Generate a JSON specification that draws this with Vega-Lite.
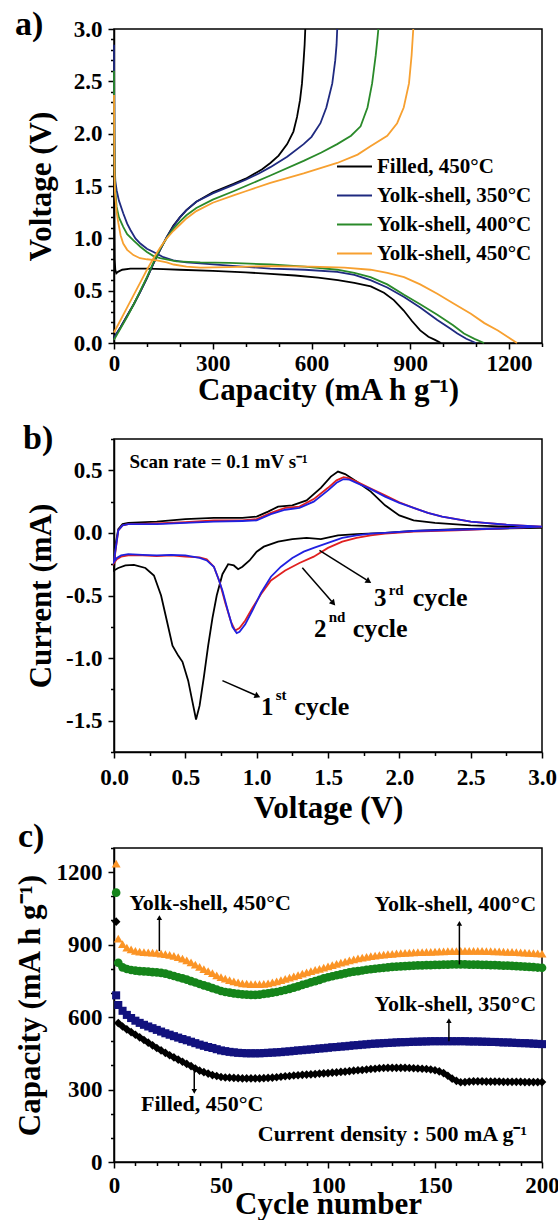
{
"$schema":"https://vega.github.io/schema/vega-lite/v6.json",
"background":"white",
"padding":{"left":13,"top":7,"right":3,"bottom":0},
"bounds":"flush",
"spacing":96,
"config":{
 "font":"Liberation Serif",
 "view":{"stroke":"black","strokeWidth":1.5},
 "axis":{"domainColor":"black","domainWidth":1.5,"tickColor":"black","tickWidth":1.5,"labelColor":"black","titleColor":"black","labelFont":"Liberation Serif","titleFont":"Liberation Serif","labelFontWeight":"bold","titleFontWeight":"bold","labelFontSize":23,"titleFontSize":31,"grid":false,"labelOverlap":false,"labelFlush":false,"labelBound":false,"labelPadding":6},
 "axisX":{"labelPadding":3.5},
 "title":{"font":"Liberation Serif","fontWeight":"bold","fontSize":34,"color":"black","anchor":"start","frame":"group","offset":0,"baseline":"alphabetic"},
 "text":{"font":"Liberation Serif","fontWeight":"bold","color":"black"}
},
"datasets":{
 "cv":[
{"v":3.0,"i":0.04,"c":1,"o":1},{"v":2.7,"i":0.035,"c":1,"o":2},{"v":2.4,"i":0.03,"c":1,"o":3},{"v":2.1,"i":0.015,"c":1,"o":4},{"v":1.9,"i":0.0,"c":1,"o":5},{"v":1.7,"i":-0.01,"c":1,"o":6},{"v":1.57,"i":-0.02,"c":1,"o":7},{"v":1.45,"i":-0.05,"c":1,"o":8},{"v":1.35,"i":-0.04,"c":1,"o":9},{"v":1.25,"i":-0.05,"c":1,"o":10},{"v":1.15,"i":-0.07,"c":1,"o":11},{"v":1.05,"i":-0.11,"c":1,"o":12},{"v":1.0,"i":-0.15,"c":1,"o":13},{"v":0.95,"i":-0.22,"c":1,"o":14},{"v":0.9,"i":-0.27,"c":1,"o":15},{"v":0.87,"i":-0.29,"c":1,"o":16},{"v":0.84,"i":-0.26,"c":1,"o":17},{"v":0.8,"i":-0.25,"c":1,"o":18},{"v":0.76,"i":-0.33,"c":1,"o":19},{"v":0.72,"i":-0.5,"c":1,"o":20},{"v":0.69,"i":-0.68,"c":1,"o":21},{"v":0.66,"i":-0.9,"c":1,"o":22},{"v":0.63,"i":-1.15,"c":1,"o":23},{"v":0.6,"i":-1.38,"c":1,"o":24},{"v":0.575,"i":-1.49,"c":1,"o":25},{"v":0.55,"i":-1.35,"c":1,"o":26},{"v":0.52,"i":-1.18,"c":1,"o":27},{"v":0.48,"i":-1.03,"c":1,"o":28},{"v":0.45,"i":-0.98,"c":1,"o":29},{"v":0.41,"i":-0.9,"c":1,"o":30},{"v":0.37,"i":-0.7,"c":1,"o":31},{"v":0.33,"i":-0.5,"c":1,"o":32},{"v":0.28,"i":-0.34,"c":1,"o":33},{"v":0.22,"i":-0.28,"c":1,"o":34},{"v":0.14,"i":-0.255,"c":1,"o":35},{"v":0.08,"i":-0.26,"c":1,"o":36},{"v":0.03,"i":-0.28,"c":1,"o":37},{"v":0.0,"i":-0.3,"c":1,"o":38},{"v":0.01,"i":-0.1,"c":1,"o":39},{"v":0.03,"i":0.03,"c":1,"o":40},{"v":0.06,"i":0.07,"c":1,"o":41},{"v":0.1,"i":0.08,"c":1,"o":42},{"v":0.3,"i":0.09,"c":1,"o":43},{"v":0.5,"i":0.11,"c":1,"o":44},{"v":0.7,"i":0.12,"c":1,"o":45},{"v":0.9,"i":0.12,"c":1,"o":46},{"v":1.0,"i":0.13,"c":1,"o":47},{"v":1.08,"i":0.17,"c":1,"o":48},{"v":1.15,"i":0.21,"c":1,"o":49},{"v":1.25,"i":0.22,"c":1,"o":50},{"v":1.35,"i":0.26,"c":1,"o":51},{"v":1.45,"i":0.36,"c":1,"o":52},{"v":1.52,"i":0.45,"c":1,"o":53},{"v":1.57,"i":0.49,"c":1,"o":54},{"v":1.62,"i":0.47,"c":1,"o":55},{"v":1.7,"i":0.41,"c":1,"o":56},{"v":1.8,"i":0.33,"c":1,"o":57},{"v":1.9,"i":0.22,"c":1,"o":58},{"v":2.0,"i":0.14,"c":1,"o":59},{"v":2.1,"i":0.1,"c":1,"o":60},{"v":2.25,"i":0.08,"c":1,"o":61},{"v":2.5,"i":0.06,"c":1,"o":62},{"v":2.75,"i":0.05,"c":1,"o":63},{"v":3.0,"i":0.04,"c":1,"o":64},
{"v":3.0,"i":0.05,"c":2,"o":1},{"v":2.7,"i":0.035,"c":2,"o":2},{"v":2.4,"i":0.02,"c":2,"o":3},{"v":2.1,"i":0.01,"c":2,"o":4},{"v":1.9,"i":-0.005,"c":2,"o":5},{"v":1.8,"i":-0.02,"c":2,"o":6},{"v":1.7,"i":-0.04,"c":2,"o":7},{"v":1.6,"i":-0.07,"c":2,"o":8},{"v":1.5,"i":-0.12,"c":2,"o":9},{"v":1.4,"i":-0.19,"c":2,"o":10},{"v":1.3,"i":-0.24,"c":2,"o":11},{"v":1.2,"i":-0.3,"c":2,"o":12},{"v":1.1,"i":-0.38,"c":2,"o":13},{"v":1.03,"i":-0.49,"c":2,"o":14},{"v":0.97,"i":-0.6,"c":2,"o":15},{"v":0.92,"i":-0.7,"c":2,"o":16},{"v":0.88,"i":-0.76,"c":2,"o":17},{"v":0.85,"i":-0.78,"c":2,"o":18},{"v":0.82,"i":-0.71,"c":2,"o":19},{"v":0.78,"i":-0.56,"c":2,"o":20},{"v":0.74,"i":-0.39,"c":2,"o":21},{"v":0.7,"i":-0.27,"c":2,"o":22},{"v":0.65,"i":-0.21,"c":2,"o":23},{"v":0.6,"i":-0.195,"c":2,"o":24},{"v":0.5,"i":-0.19,"c":2,"o":25},{"v":0.4,"i":-0.18,"c":2,"o":26},{"v":0.3,"i":-0.185,"c":2,"o":27},{"v":0.2,"i":-0.18,"c":2,"o":28},{"v":0.1,"i":-0.18,"c":2,"o":29},{"v":0.05,"i":-0.19,"c":2,"o":30},{"v":0.02,"i":-0.21,"c":2,"o":31},{"v":0.0,"i":-0.24,"c":2,"o":32},{"v":0.01,"i":-0.15,"c":2,"o":33},{"v":0.03,"i":0.02,"c":2,"o":34},{"v":0.06,"i":0.06,"c":2,"o":35},{"v":0.1,"i":0.07,"c":2,"o":36},{"v":0.3,"i":0.075,"c":2,"o":37},{"v":0.5,"i":0.085,"c":2,"o":38},{"v":0.7,"i":0.1,"c":2,"o":39},{"v":0.9,"i":0.1,"c":2,"o":40},{"v":1.0,"i":0.11,"c":2,"o":41},{"v":1.1,"i":0.16,"c":2,"o":42},{"v":1.2,"i":0.2,"c":2,"o":43},{"v":1.3,"i":0.21,"c":2,"o":44},{"v":1.4,"i":0.27,"c":2,"o":45},{"v":1.5,"i":0.36,"c":2,"o":46},{"v":1.56,"i":0.42,"c":2,"o":47},{"v":1.61,"i":0.445,"c":2,"o":48},{"v":1.65,"i":0.435,"c":2,"o":49},{"v":1.7,"i":0.41,"c":2,"o":50},{"v":1.8,"i":0.355,"c":2,"o":51},{"v":1.9,"i":0.3,"c":2,"o":52},{"v":2.0,"i":0.245,"c":2,"o":53},{"v":2.1,"i":0.2,"c":2,"o":54},{"v":2.2,"i":0.16,"c":2,"o":55},{"v":2.3,"i":0.13,"c":2,"o":56},{"v":2.4,"i":0.11,"c":2,"o":57},{"v":2.5,"i":0.09,"c":2,"o":58},{"v":2.6,"i":0.08,"c":2,"o":59},{"v":2.75,"i":0.065,"c":2,"o":60},{"v":3.0,"i":0.05,"c":2,"o":61},
{"v":3.0,"i":0.05,"c":3,"o":1},{"v":2.7,"i":0.035,"c":3,"o":2},{"v":2.4,"i":0.025,"c":3,"o":3},{"v":2.1,"i":0.015,"c":3,"o":4},{"v":1.9,"i":0.0,"c":3,"o":5},{"v":1.8,"i":-0.005,"c":3,"o":6},{"v":1.7,"i":-0.02,"c":3,"o":7},{"v":1.6,"i":-0.04,"c":3,"o":8},{"v":1.5,"i":-0.08,"c":3,"o":9},{"v":1.4,"i":-0.12,"c":3,"o":10},{"v":1.33,"i":-0.15,"c":3,"o":11},{"v":1.25,"i":-0.2,"c":3,"o":12},{"v":1.17,"i":-0.27,"c":3,"o":13},{"v":1.1,"i":-0.35,"c":3,"o":14},{"v":1.03,"i":-0.48,"c":3,"o":15},{"v":0.97,"i":-0.62,"c":3,"o":16},{"v":0.92,"i":-0.73,"c":3,"o":17},{"v":0.88,"i":-0.79,"c":3,"o":18},{"v":0.86,"i":-0.8,"c":3,"o":19},{"v":0.83,"i":-0.75,"c":3,"o":20},{"v":0.8,"i":-0.63,"c":3,"o":21},{"v":0.76,"i":-0.46,"c":3,"o":22},{"v":0.73,"i":-0.36,"c":3,"o":23},{"v":0.7,"i":-0.27,"c":3,"o":24},{"v":0.65,"i":-0.22,"c":3,"o":25},{"v":0.6,"i":-0.2,"c":3,"o":26},{"v":0.5,"i":-0.18,"c":3,"o":27},{"v":0.4,"i":-0.175,"c":3,"o":28},{"v":0.3,"i":-0.18,"c":3,"o":29},{"v":0.2,"i":-0.175,"c":3,"o":30},{"v":0.1,"i":-0.17,"c":3,"o":31},{"v":0.05,"i":-0.18,"c":3,"o":32},{"v":0.02,"i":-0.2,"c":3,"o":33},{"v":0.0,"i":-0.23,"c":3,"o":34},{"v":0.01,"i":-0.14,"c":3,"o":35},{"v":0.03,"i":0.02,"c":3,"o":36},{"v":0.06,"i":0.06,"c":3,"o":37},{"v":0.1,"i":0.07,"c":3,"o":38},{"v":0.3,"i":0.07,"c":3,"o":39},{"v":0.5,"i":0.08,"c":3,"o":40},{"v":0.7,"i":0.09,"c":3,"o":41},{"v":0.9,"i":0.095,"c":3,"o":42},{"v":1.0,"i":0.1,"c":3,"o":43},{"v":1.1,"i":0.15,"c":3,"o":44},{"v":1.2,"i":0.185,"c":3,"o":45},{"v":1.3,"i":0.2,"c":3,"o":46},{"v":1.4,"i":0.25,"c":3,"o":47},{"v":1.5,"i":0.34,"c":3,"o":48},{"v":1.56,"i":0.4,"c":3,"o":49},{"v":1.61,"i":0.43,"c":3,"o":50},{"v":1.65,"i":0.425,"c":3,"o":51},{"v":1.7,"i":0.4,"c":3,"o":52},{"v":1.8,"i":0.35,"c":3,"o":53},{"v":1.9,"i":0.29,"c":3,"o":54},{"v":2.0,"i":0.24,"c":3,"o":55},{"v":2.1,"i":0.2,"c":3,"o":56},{"v":2.2,"i":0.16,"c":3,"o":57},{"v":2.3,"i":0.13,"c":3,"o":58},{"v":2.4,"i":0.11,"c":3,"o":59},{"v":2.5,"i":0.09,"c":3,"o":60},{"v":2.6,"i":0.08,"c":3,"o":61},{"v":2.75,"i":0.065,"c":3,"o":62},{"v":3.0,"i":0.05,"c":3,"o":63}
 ],
 "y450":[{"c":1,"y":1235},{"c":2,"y":925},{"c":4,"y":902},{"c":6,"y":888},{"c":8,"y":880},{"c":10,"y":874},{"c":12,"y":871},{"c":14,"y":869},{"c":16,"y":868},{"c":18,"y":867},{"c":20,"y":866},{"c":22,"y":863},{"c":24,"y":861},{"c":26,"y":858},{"c":28,"y":853},{"c":30,"y":848},{"c":32,"y":842},{"c":34,"y":835},{"c":36,"y":826},{"c":38,"y":817},{"c":40,"y":808},{"c":42,"y":799},{"c":44,"y":790},{"c":46,"y":782},{"c":48,"y":773},{"c":50,"y":765},{"c":52,"y":759},{"c":54,"y":753},{"c":56,"y":748},{"c":58,"y":744},{"c":60,"y":740},{"c":62,"y":738},{"c":64,"y":736},{"c":66,"y":736},{"c":68,"y":736},{"c":70,"y":737},{"c":72,"y":740},{"c":74,"y":744},{"c":76,"y":748},{"c":78,"y":753},{"c":80,"y":758},{"c":82,"y":763},{"c":84,"y":769},{"c":86,"y":774},{"c":88,"y":780},{"c":90,"y":785},{"c":92,"y":790},{"c":94,"y":795},{"c":96,"y":800},{"c":98,"y":805},{"c":100,"y":810},{"c":102,"y":815},{"c":104,"y":820},{"c":106,"y":825},{"c":108,"y":830},{"c":110,"y":835},{"c":112,"y":839},{"c":114,"y":843},{"c":116,"y":846},{"c":118,"y":849},{"c":120,"y":852},{"c":122,"y":854},{"c":124,"y":857},{"c":126,"y":859},{"c":128,"y":861},{"c":130,"y":862},{"c":132,"y":864},{"c":134,"y":865},{"c":136,"y":866},{"c":138,"y":867},{"c":140,"y":868},{"c":142,"y":869},{"c":144,"y":869},{"c":146,"y":870},{"c":148,"y":870},{"c":150,"y":871},{"c":152,"y":872},{"c":154,"y":872},{"c":156,"y":873},{"c":158,"y":873},{"c":160,"y":873},{"c":162,"y":874},{"c":164,"y":874},{"c":166,"y":874},{"c":168,"y":874},{"c":170,"y":874},{"c":172,"y":874},{"c":174,"y":873},{"c":176,"y":873},{"c":178,"y":872},{"c":180,"y":872},{"c":182,"y":871},{"c":184,"y":870},{"c":186,"y":870},{"c":188,"y":869},{"c":190,"y":868},{"c":192,"y":867},{"c":194,"y":866},{"c":196,"y":865},{"c":198,"y":864},{"c":200,"y":863}],
 "y400":[{"c":1,"y":1115},{"c":2,"y":825},{"c":4,"y":806},{"c":6,"y":799},{"c":8,"y":795},{"c":10,"y":792},{"c":12,"y":790},{"c":14,"y":789},{"c":16,"y":788},{"c":18,"y":786},{"c":20,"y":785},{"c":22,"y":783},{"c":24,"y":780},{"c":26,"y":775},{"c":28,"y":770},{"c":30,"y":765},{"c":32,"y":760},{"c":34,"y":755},{"c":36,"y":749},{"c":38,"y":743},{"c":40,"y":737},{"c":42,"y":731},{"c":44,"y":726},{"c":46,"y":720},{"c":48,"y":714},{"c":50,"y":708},{"c":52,"y":704},{"c":54,"y":701},{"c":56,"y":698},{"c":58,"y":696},{"c":60,"y":694},{"c":62,"y":693},{"c":64,"y":692},{"c":66,"y":692},{"c":68,"y":693},{"c":70,"y":696},{"c":72,"y":698},{"c":74,"y":701},{"c":76,"y":704},{"c":78,"y":708},{"c":80,"y":712},{"c":82,"y":717},{"c":84,"y":722},{"c":86,"y":727},{"c":88,"y":733},{"c":90,"y":738},{"c":92,"y":744},{"c":94,"y":749},{"c":96,"y":754},{"c":98,"y":760},{"c":100,"y":765},{"c":102,"y":769},{"c":104,"y":773},{"c":106,"y":777},{"c":108,"y":781},{"c":110,"y":785},{"c":112,"y":788},{"c":114,"y":790},{"c":116,"y":793},{"c":118,"y":796},{"c":120,"y":798},{"c":122,"y":800},{"c":124,"y":802},{"c":126,"y":804},{"c":128,"y":806},{"c":130,"y":808},{"c":132,"y":809},{"c":134,"y":810},{"c":136,"y":811},{"c":138,"y":812},{"c":140,"y":813},{"c":142,"y":814},{"c":144,"y":814},{"c":146,"y":815},{"c":148,"y":815},{"c":150,"y":816},{"c":152,"y":816},{"c":154,"y":817},{"c":156,"y":817},{"c":158,"y":818},{"c":160,"y":818},{"c":162,"y":818},{"c":164,"y":818},{"c":166,"y":817},{"c":168,"y":817},{"c":170,"y":817},{"c":172,"y":816},{"c":174,"y":816},{"c":176,"y":815},{"c":178,"y":815},{"c":180,"y":814},{"c":182,"y":813},{"c":184,"y":813},{"c":186,"y":812},{"c":188,"y":811},{"c":190,"y":810},{"c":192,"y":809},{"c":194,"y":808},{"c":196,"y":807},{"c":198,"y":805},{"c":200,"y":804}],
 "y350":[{"c":1,"y":690},{"c":2,"y":650},{"c":4,"y":626},{"c":6,"y":609},{"c":8,"y":596},{"c":10,"y":585},{"c":12,"y":576},{"c":14,"y":568},{"c":16,"y":561},{"c":18,"y":554},{"c":20,"y":547},{"c":22,"y":540},{"c":24,"y":533},{"c":26,"y":527},{"c":28,"y":521},{"c":30,"y":515},{"c":32,"y":509},{"c":34,"y":504},{"c":36,"y":498},{"c":38,"y":492},{"c":40,"y":486},{"c":42,"y":481},{"c":44,"y":476},{"c":46,"y":472},{"c":48,"y":467},{"c":50,"y":462},{"c":52,"y":459},{"c":54,"y":456},{"c":56,"y":454},{"c":58,"y":452},{"c":60,"y":451},{"c":62,"y":450},{"c":64,"y":450},{"c":66,"y":450},{"c":68,"y":450},{"c":70,"y":451},{"c":72,"y":452},{"c":74,"y":453},{"c":76,"y":454},{"c":78,"y":455},{"c":80,"y":457},{"c":82,"y":458},{"c":84,"y":460},{"c":86,"y":462},{"c":88,"y":463},{"c":90,"y":465},{"c":92,"y":466},{"c":94,"y":468},{"c":96,"y":470},{"c":98,"y":471},{"c":100,"y":473},{"c":102,"y":475},{"c":104,"y":476},{"c":106,"y":478},{"c":108,"y":479},{"c":110,"y":481},{"c":112,"y":483},{"c":114,"y":484},{"c":116,"y":486},{"c":118,"y":487},{"c":120,"y":489},{"c":122,"y":490},{"c":124,"y":491},{"c":126,"y":492},{"c":128,"y":493},{"c":130,"y":494},{"c":132,"y":495},{"c":134,"y":496},{"c":136,"y":496},{"c":138,"y":497},{"c":140,"y":498},{"c":142,"y":498},{"c":144,"y":499},{"c":146,"y":499},{"c":148,"y":500},{"c":150,"y":500},{"c":152,"y":500},{"c":154,"y":500},{"c":156,"y":500},{"c":158,"y":500},{"c":160,"y":500},{"c":162,"y":500},{"c":164,"y":500},{"c":166,"y":499},{"c":168,"y":499},{"c":170,"y":499},{"c":172,"y":498},{"c":174,"y":498},{"c":176,"y":497},{"c":178,"y":497},{"c":180,"y":496},{"c":182,"y":495},{"c":184,"y":495},{"c":186,"y":494},{"c":188,"y":493},{"c":190,"y":492},{"c":192,"y":492},{"c":194,"y":491},{"c":196,"y":490},{"c":198,"y":489},{"c":200,"y":488}],
 "fil":[{"c":1,"y":995},{"c":2,"y":575},{"c":4,"y":561},{"c":6,"y":549},{"c":8,"y":538},{"c":10,"y":527},{"c":12,"y":516},{"c":14,"y":505},{"c":16,"y":494},{"c":18,"y":483},{"c":20,"y":472},{"c":22,"y":462},{"c":24,"y":452},{"c":26,"y":442},{"c":28,"y":433},{"c":30,"y":424},{"c":32,"y":415},{"c":34,"y":406},{"c":36,"y":397},{"c":38,"y":387},{"c":40,"y":378},{"c":42,"y":372},{"c":44,"y":366},{"c":46,"y":360},{"c":48,"y":356},{"c":50,"y":352},{"c":52,"y":350},{"c":54,"y":349},{"c":56,"y":348},{"c":58,"y":347},{"c":60,"y":346},{"c":62,"y":346},{"c":64,"y":346},{"c":66,"y":346},{"c":68,"y":346},{"c":70,"y":347},{"c":72,"y":348},{"c":74,"y":349},{"c":76,"y":351},{"c":78,"y":353},{"c":80,"y":355},{"c":82,"y":356},{"c":84,"y":358},{"c":86,"y":359},{"c":88,"y":361},{"c":90,"y":362},{"c":92,"y":363},{"c":94,"y":364},{"c":96,"y":366},{"c":98,"y":367},{"c":100,"y":368},{"c":102,"y":370},{"c":104,"y":371},{"c":106,"y":373},{"c":108,"y":374},{"c":110,"y":376},{"c":112,"y":378},{"c":114,"y":380},{"c":116,"y":381},{"c":118,"y":383},{"c":120,"y":385},{"c":122,"y":386},{"c":124,"y":388},{"c":126,"y":389},{"c":128,"y":390},{"c":130,"y":390},{"c":132,"y":390},{"c":134,"y":390},{"c":136,"y":390},{"c":138,"y":389},{"c":140,"y":388},{"c":142,"y":387},{"c":144,"y":386},{"c":146,"y":385},{"c":148,"y":383},{"c":150,"y":380},{"c":152,"y":375},{"c":154,"y":368},{"c":156,"y":357},{"c":158,"y":345},{"c":160,"y":336},{"c":162,"y":330},{"c":164,"y":331},{"c":166,"y":333},{"c":168,"y":334},{"c":170,"y":334},{"c":172,"y":334},{"c":174,"y":333},{"c":176,"y":333},{"c":178,"y":333},{"c":180,"y":333},{"c":182,"y":332},{"c":184,"y":332},{"c":186,"y":332},{"c":188,"y":332},{"c":190,"y":332},{"c":192,"y":331},{"c":194,"y":331},{"c":196,"y":331},{"c":198,"y":331},{"c":200,"y":331}]
},
"vconcat":[
{
 "width":428,"height":314,
 "title":{"text":"a)","dx":-99,"dy":28},
 "data":{"values":[
{"q":0,"v":1.98,"s":"F","k":"d"},{"q":1,"v":1.2,"s":"F","k":"d"},{"q":2,"v":0.8,"s":"F","k":"d"},{"q":4,"v":0.7,"s":"F","k":"d"},{"q":7,"v":0.665,"s":"F","k":"d"},{"q":12,"v":0.68,"s":"F","k":"d"},{"q":25,"v":0.7,"s":"F","k":"d"},{"q":50,"v":0.71,"s":"F","k":"d"},{"q":100,"v":0.71,"s":"F","k":"d"},{"q":150,"v":0.705,"s":"F","k":"d"},{"q":200,"v":0.7,"s":"F","k":"d"},{"q":300,"v":0.69,"s":"F","k":"d"},{"q":400,"v":0.675,"s":"F","k":"d"},{"q":475,"v":0.66,"s":"F","k":"d"},{"q":550,"v":0.645,"s":"F","k":"d"},{"q":620,"v":0.625,"s":"F","k":"d"},{"q":680,"v":0.6,"s":"F","k":"d"},{"q":730,"v":0.575,"s":"F","k":"d"},{"q":780,"v":0.54,"s":"F","k":"d"},{"q":820,"v":0.48,"s":"F","k":"d"},{"q":850,"v":0.41,"s":"F","k":"d"},{"q":880,"v":0.31,"s":"F","k":"d"},{"q":905,"v":0.21,"s":"F","k":"d"},{"q":930,"v":0.12,"s":"F","k":"d"},{"q":955,"v":0.06,"s":"F","k":"d"},{"q":975,"v":0.03,"s":"F","k":"d"},{"q":993,"v":0,"s":"F","k":"d"},
{"q":0,"v":0.05,"s":"F","k":"c"},{"q":20,"v":0.15,"s":"F","k":"c"},{"q":40,"v":0.26,"s":"F","k":"c"},{"q":60,"v":0.37,"s":"F","k":"c"},{"q":80,"v":0.49,"s":"F","k":"c"},{"q":100,"v":0.62,"s":"F","k":"c"},{"q":120,"v":0.76,"s":"F","k":"c"},{"q":140,"v":0.89,"s":"F","k":"c"},{"q":160,"v":1.01,"s":"F","k":"c"},{"q":180,"v":1.12,"s":"F","k":"c"},{"q":200,"v":1.2,"s":"F","k":"c"},{"q":220,"v":1.27,"s":"F","k":"c"},{"q":250,"v":1.35,"s":"F","k":"c"},{"q":300,"v":1.44,"s":"F","k":"c"},{"q":363,"v":1.52,"s":"F","k":"c"},{"q":400,"v":1.57,"s":"F","k":"c"},{"q":450,"v":1.66,"s":"F","k":"c"},{"q":475,"v":1.72,"s":"F","k":"c"},{"q":500,"v":1.79,"s":"F","k":"c"},{"q":526,"v":1.9,"s":"F","k":"c"},{"q":545,"v":2.02,"s":"F","k":"c"},{"q":556,"v":2.16,"s":"F","k":"c"},{"q":565,"v":2.32,"s":"F","k":"c"},{"q":571,"v":2.48,"s":"F","k":"c"},{"q":576,"v":2.7,"s":"F","k":"c"},{"q":579,"v":2.85,"s":"F","k":"c"},{"q":581,"v":3,"s":"F","k":"c"},
{"q":0,"v":2.85,"s":"Y350","k":"d"},{"q":1,"v":2.0,"s":"Y350","k":"d"},{"q":2,"v":1.7,"s":"Y350","k":"d"},{"q":4,"v":1.55,"s":"Y350","k":"d"},{"q":8,"v":1.46,"s":"Y350","k":"d"},{"q":15,"v":1.36,"s":"Y350","k":"d"},{"q":28,"v":1.24,"s":"Y350","k":"d"},{"q":40,"v":1.14,"s":"Y350","k":"d"},{"q":50,"v":1.08,"s":"Y350","k":"d"},{"q":65,"v":1.0,"s":"Y350","k":"d"},{"q":80,"v":0.95,"s":"Y350","k":"d"},{"q":100,"v":0.9,"s":"Y350","k":"d"},{"q":120,"v":0.87,"s":"Y350","k":"d"},{"q":150,"v":0.82,"s":"Y350","k":"d"},{"q":180,"v":0.79,"s":"Y350","k":"d"},{"q":220,"v":0.77,"s":"Y350","k":"d"},{"q":262,"v":0.76,"s":"Y350","k":"d"},{"q":350,"v":0.74,"s":"Y350","k":"d"},{"q":475,"v":0.71,"s":"Y350","k":"d"},{"q":580,"v":0.7,"s":"Y350","k":"d"},{"q":678,"v":0.68,"s":"Y350","k":"d"},{"q":730,"v":0.65,"s":"Y350","k":"d"},{"q":779,"v":0.6,"s":"Y350","k":"d"},{"q":830,"v":0.53,"s":"Y350","k":"d"},{"q":881,"v":0.44,"s":"Y350","k":"d"},{"q":930,"v":0.34,"s":"Y350","k":"d"},{"q":982,"v":0.22,"s":"Y350","k":"d"},{"q":1020,"v":0.14,"s":"Y350","k":"d"},{"q":1043,"v":0.09,"s":"Y350","k":"d"},{"q":1070,"v":0.04,"s":"Y350","k":"d"},{"q":1099,"v":0,"s":"Y350","k":"d"},
{"q":0,"v":0.05,"s":"Y350","k":"c"},{"q":20,"v":0.15,"s":"Y350","k":"c"},{"q":40,"v":0.26,"s":"Y350","k":"c"},{"q":60,"v":0.37,"s":"Y350","k":"c"},{"q":80,"v":0.49,"s":"Y350","k":"c"},{"q":100,"v":0.62,"s":"Y350","k":"c"},{"q":120,"v":0.76,"s":"Y350","k":"c"},{"q":140,"v":0.89,"s":"Y350","k":"c"},{"q":160,"v":1.01,"s":"Y350","k":"c"},{"q":180,"v":1.11,"s":"Y350","k":"c"},{"q":200,"v":1.2,"s":"Y350","k":"c"},{"q":220,"v":1.27,"s":"Y350","k":"c"},{"q":250,"v":1.35,"s":"Y350","k":"c"},{"q":300,"v":1.43,"s":"Y350","k":"c"},{"q":363,"v":1.51,"s":"Y350","k":"c"},{"q":400,"v":1.56,"s":"Y350","k":"c"},{"q":440,"v":1.62,"s":"Y350","k":"c"},{"q":475,"v":1.68,"s":"Y350","k":"c"},{"q":526,"v":1.78,"s":"Y350","k":"c"},{"q":576,"v":1.9,"s":"Y350","k":"c"},{"q":600,"v":1.97,"s":"Y350","k":"c"},{"q":627,"v":2.1,"s":"Y350","k":"c"},{"q":645,"v":2.25,"s":"Y350","k":"c"},{"q":663,"v":2.48,"s":"Y350","k":"c"},{"q":672,"v":2.7,"s":"Y350","k":"c"},{"q":676,"v":2.85,"s":"Y350","k":"c"},{"q":678,"v":3,"s":"Y350","k":"c"},
{"q":0,"v":2.6,"s":"Y400","k":"d"},{"q":1,"v":1.9,"s":"Y400","k":"d"},{"q":2,"v":1.6,"s":"Y400","k":"d"},{"q":4,"v":1.45,"s":"Y400","k":"d"},{"q":8,"v":1.3,"s":"Y400","k":"d"},{"q":15,"v":1.2,"s":"Y400","k":"d"},{"q":28,"v":1.11,"s":"Y400","k":"d"},{"q":40,"v":1.04,"s":"Y400","k":"d"},{"q":59,"v":0.98,"s":"Y400","k":"d"},{"q":80,"v":0.92,"s":"Y400","k":"d"},{"q":100,"v":0.87,"s":"Y400","k":"d"},{"q":120,"v":0.83,"s":"Y400","k":"d"},{"q":140,"v":0.81,"s":"Y400","k":"d"},{"q":190,"v":0.78,"s":"Y400","k":"d"},{"q":262,"v":0.77,"s":"Y400","k":"d"},{"q":350,"v":0.765,"s":"Y400","k":"d"},{"q":475,"v":0.75,"s":"Y400","k":"d"},{"q":580,"v":0.73,"s":"Y400","k":"d"},{"q":678,"v":0.7,"s":"Y400","k":"d"},{"q":730,"v":0.67,"s":"Y400","k":"d"},{"q":779,"v":0.63,"s":"Y400","k":"d"},{"q":830,"v":0.56,"s":"Y400","k":"d"},{"q":881,"v":0.46,"s":"Y400","k":"d"},{"q":930,"v":0.37,"s":"Y400","k":"d"},{"q":982,"v":0.27,"s":"Y400","k":"d"},{"q":1030,"v":0.17,"s":"Y400","k":"d"},{"q":1063,"v":0.09,"s":"Y400","k":"d"},{"q":1095,"v":0.04,"s":"Y400","k":"d"},{"q":1124,"v":0,"s":"Y400","k":"d"},
{"q":0,"v":0.03,"s":"Y400","k":"c"},{"q":20,"v":0.14,"s":"Y400","k":"c"},{"q":40,"v":0.25,"s":"Y400","k":"c"},{"q":60,"v":0.37,"s":"Y400","k":"c"},{"q":80,"v":0.5,"s":"Y400","k":"c"},{"q":100,"v":0.63,"s":"Y400","k":"c"},{"q":120,"v":0.77,"s":"Y400","k":"c"},{"q":140,"v":0.9,"s":"Y400","k":"c"},{"q":160,"v":1.0,"s":"Y400","k":"c"},{"q":180,"v":1.09,"s":"Y400","k":"c"},{"q":200,"v":1.16,"s":"Y400","k":"c"},{"q":220,"v":1.22,"s":"Y400","k":"c"},{"q":250,"v":1.29,"s":"Y400","k":"c"},{"q":300,"v":1.37,"s":"Y400","k":"c"},{"q":363,"v":1.45,"s":"Y400","k":"c"},{"q":400,"v":1.5,"s":"Y400","k":"c"},{"q":475,"v":1.6,"s":"Y400","k":"c"},{"q":576,"v":1.74,"s":"Y400","k":"c"},{"q":630,"v":1.82,"s":"Y400","k":"c"},{"q":678,"v":1.9,"s":"Y400","k":"c"},{"q":720,"v":1.98,"s":"Y400","k":"c"},{"q":749,"v":2.07,"s":"Y400","k":"c"},{"q":770,"v":2.25,"s":"Y400","k":"c"},{"q":784,"v":2.48,"s":"Y400","k":"c"},{"q":795,"v":2.75,"s":"Y400","k":"c"},{"q":800,"v":2.9,"s":"Y400","k":"c"},{"q":803,"v":3,"s":"Y400","k":"c"},
{"q":0,"v":2.37,"s":"Y450","k":"d"},{"q":1,"v":1.8,"s":"Y450","k":"d"},{"q":2,"v":1.55,"s":"Y450","k":"d"},{"q":3,"v":1.44,"s":"Y450","k":"d"},{"q":8,"v":1.25,"s":"Y450","k":"d"},{"q":13,"v":1.15,"s":"Y450","k":"d"},{"q":20,"v":1.03,"s":"Y450","k":"d"},{"q":28,"v":0.95,"s":"Y450","k":"d"},{"q":40,"v":0.89,"s":"Y450","k":"d"},{"q":59,"v":0.84,"s":"Y450","k":"d"},{"q":79,"v":0.81,"s":"Y450","k":"d"},{"q":100,"v":0.8,"s":"Y450","k":"d"},{"q":130,"v":0.79,"s":"Y450","k":"d"},{"q":160,"v":0.77,"s":"Y450","k":"d"},{"q":181,"v":0.75,"s":"Y450","k":"d"},{"q":220,"v":0.73,"s":"Y450","k":"d"},{"q":262,"v":0.72,"s":"Y450","k":"d"},{"q":350,"v":0.725,"s":"Y450","k":"d"},{"q":475,"v":0.735,"s":"Y450","k":"d"},{"q":600,"v":0.73,"s":"Y450","k":"d"},{"q":700,"v":0.72,"s":"Y450","k":"d"},{"q":779,"v":0.7,"s":"Y450","k":"d"},{"q":830,"v":0.67,"s":"Y450","k":"d"},{"q":881,"v":0.63,"s":"Y450","k":"d"},{"q":930,"v":0.56,"s":"Y450","k":"d"},{"q":982,"v":0.47,"s":"Y450","k":"d"},{"q":1030,"v":0.38,"s":"Y450","k":"d"},{"q":1084,"v":0.28,"s":"Y450","k":"d"},{"q":1125,"v":0.19,"s":"Y450","k":"d"},{"q":1166,"v":0.12,"s":"Y450","k":"d"},{"q":1195,"v":0.06,"s":"Y450","k":"d"},{"q":1224,"v":0,"s":"Y450","k":"d"},
{"q":0,"v":0.1,"s":"Y450","k":"c"},{"q":20,"v":0.22,"s":"Y450","k":"c"},{"q":40,"v":0.34,"s":"Y450","k":"c"},{"q":60,"v":0.46,"s":"Y450","k":"c"},{"q":80,"v":0.58,"s":"Y450","k":"c"},{"q":100,"v":0.7,"s":"Y450","k":"c"},{"q":120,"v":0.81,"s":"Y450","k":"c"},{"q":140,"v":0.91,"s":"Y450","k":"c"},{"q":160,"v":1.0,"s":"Y450","k":"c"},{"q":180,"v":1.07,"s":"Y450","k":"c"},{"q":200,"v":1.13,"s":"Y450","k":"c"},{"q":220,"v":1.19,"s":"Y450","k":"c"},{"q":250,"v":1.26,"s":"Y450","k":"c"},{"q":300,"v":1.34,"s":"Y450","k":"c"},{"q":363,"v":1.41,"s":"Y450","k":"c"},{"q":400,"v":1.45,"s":"Y450","k":"c"},{"q":475,"v":1.53,"s":"Y450","k":"c"},{"q":576,"v":1.62,"s":"Y450","k":"c"},{"q":678,"v":1.72,"s":"Y450","k":"c"},{"q":740,"v":1.8,"s":"Y450","k":"c"},{"q":779,"v":1.88,"s":"Y450","k":"c"},{"q":830,"v":1.98,"s":"Y450","k":"c"},{"q":860,"v":2.1,"s":"Y450","k":"c"},{"q":880,"v":2.25,"s":"Y450","k":"c"},{"q":896,"v":2.48,"s":"Y450","k":"c"},{"q":904,"v":2.75,"s":"Y450","k":"c"},{"q":909,"v":3,"s":"Y450","k":"c"}
 ]},
 "mark":{"type":"line","strokeWidth":1.8},
 "encoding":{
  "x":{"field":"q","type":"quantitative","scale":{"domain":[0,1300],"nice":false,"zero":false},
   "axis":{"values":[0,100,200,300,400,500,600,700,800,900,1000,1100,1200,1300],"format":"d","labelOverlap":false,"labelExpr":"datum.value % 300 === 0 ? datum.label : ''","tickSize":{"condition":{"test":"datum.value % 300 === 0","value":6},"value":3.5},"title":"Capacity (mA h g⁻¹)","titlePadding":0}},
  "y":{"field":"v","type":"quantitative","scale":{"domain":[0,3],"nice":false},
   "axis":{"values":[0,0.1,0.2,0.3,0.4,0.5,0.6,0.7,0.8,0.9,1,1.1,1.2,1.3,1.4,1.5,1.6,1.7,1.8,1.9,2,2.1,2.2,2.3,2.4,2.5,2.6,2.7,2.8,2.9,3],"format":".1f","labelOverlap":false,"labelExpr":"abs(datum.value*2-round(datum.value*2))<0.001 ? datum.label : ''","tickSize":{"condition":{"test":"abs(datum.value*2-round(datum.value*2))<0.001","value":6},"value":3.5},"title":"Voltage (V)","titlePadding":16}},
  "color":{"field":"s","type":"nominal","scale":{"domain":["F","Y350","Y400","Y450"],"range":["#000000","#1f2a80","#2a8a2a","#f7a030"]},
   "legend":{"orient":"none","legendX":222,"legendY":119,"title":null,"symbolType":"M-1,0H1","symbolSize":1225,"symbolStrokeWidth":2,"labelFontSize":21,"labelFont":"Liberation Serif","labelFontWeight":"bold","labelColor":"black","labelOffset":4,"rowPadding":-2,"padding":0,"labelLimit":300,"labelExpr":"datum.label=='F'?'Filled, 450°C':datum.label=='Y350'?'Yolk-shell, 350°C':datum.label=='Y400'?'Yolk-shell, 400°C':'Yolk-shell, 450°C'"}},
  "detail":{"field":"k"}
 }
},
{
 "width":428,"height":313,
 "title":{"text":"b)","dx":-91,"dy":32},
 "encoding":{
  "x":{"field":"v","type":"quantitative","scale":{"domain":[0,3],"nice":false},
   "axis":{"values":[0,0.25,0.5,0.75,1,1.25,1.5,1.75,2,2.25,2.5,2.75,3],"format":".1f","labelOverlap":false,"labelExpr":"abs(datum.value*2-round(datum.value*2))<0.001 ? datum.label : ''","tickSize":{"condition":{"test":"abs(datum.value*2-round(datum.value*2))<0.001","value":6},"value":3.5},"labelPadding":8,"title":"Voltage (V)","titlePadding":4}},
  "y":{"field":"i","type":"quantitative","scale":{"domain":[-1.75,0.75],"nice":false},
   "axis":{"values":[-1.75,-1.5,-1.25,-1,-0.75,-0.5,-0.25,0,0.25,0.5,0.75],"format":".1f","labelOverlap":false,"labelExpr":"abs(datum.value*2-round(datum.value*2))<0.001 ? replace(datum.label,'−','-') : ''","tickSize":{"condition":{"test":"abs(datum.value*2-round(datum.value*2))<0.001","value":6},"value":3.5},"title":"Current (mA)","titlePadding":8}}
 },
 "layer":[
  {"data":{"name":"cv"},"transform":[{"filter":"datum.c==1"}],"mark":{"type":"line","strokeWidth":1.8,"color":"black"},"encoding":{"order":{"field":"o"}}},
  {"data":{"name":"cv"},"transform":[{"filter":"datum.c==2"}],"mark":{"type":"line","strokeWidth":1.8,"color":"#e02020"},"encoding":{"order":{"field":"o"}}},
  {"data":{"name":"cv"},"transform":[{"filter":"datum.c==3"}],"mark":{"type":"line","strokeWidth":1.8,"color":"#2020e0"},"encoding":{"order":{"field":"o"}}},
  {"data":{"values":[{"v":1.44,"i":-0.14,"v2":1.77,"i2":-0.375},{"v":1.32,"i":-0.278,"v2":1.525,"i2":-0.545},{"v":0.76,"i":-1.18,"v2":0.99,"i2":-1.295}]},
   "mark":{"type":"rule","strokeWidth":1.5,"color":"black"},
   "encoding":{"x2":{"field":"v2"},"y2":{"field":"i2"}}},
  {"data":{"values":[{"v":1.78,"i":-0.384}]},"mark":{"type":"point","shape":"triangle","filled":true,"color":"black","size":45,"angle":122,"opacity":1}},
  {"data":{"values":[{"v":1.533,"i":-0.556}]},"mark":{"type":"point","shape":"triangle","filled":true,"color":"black","size":45,"angle":139,"opacity":1}},
  {"data":{"values":[{"v":1.0,"i":-1.30}]},"mark":{"type":"point","shape":"triangle","filled":true,"color":"black","size":45,"angle":114,"opacity":1}},
  {"data":{"values":[{"v":1.822,"i":-0.58,"t":"3"},{"v":1.402,"i":-0.835,"t":"2"},{"v":1.03,"i":-1.455,"t":"1"}]},
   "mark":{"type":"text","align":"left","baseline":"alphabetic","fontSize":25},"encoding":{"text":{"field":"t"}}},
  {"data":{"values":[{"v":1.925,"i":-0.493,"t":"rd"},{"v":1.505,"i":-0.715,"t":"nd"},{"v":1.133,"i":-1.335,"t":"st"}]},
   "mark":{"type":"text","align":"left","baseline":"alphabetic","fontSize":15},"encoding":{"text":{"field":"t"}}},
  {"data":{"values":[{"v":2.094,"i":-0.58,"t":"cycle"},{"v":1.673,"i":-0.835,"t":"cycle"},{"v":1.264,"i":-1.455,"t":"cycle"}]},
   "mark":{"type":"text","align":"left","baseline":"alphabetic","fontSize":26},"encoding":{"text":{"field":"t"}}},
  {"data":{"values":[{"v":0.108,"i":0.517,"t":"Scan rate = 0.1 mV s⁻¹"}]},
   "mark":{"type":"text","align":"left","baseline":"alphabetic","fontSize":19},"encoding":{"text":{"field":"t"}}}
 ]
},
{
 "width":428,"height":314,
 "title":{"text":"c)","dx":-96,"dy":21},
 "encoding":{
  "x":{"field":"c","type":"quantitative","scale":{"domain":[0,200],"nice":false},
   "axis":{"values":[0,10,20,30,40,50,60,70,80,90,100,110,120,130,140,150,160,170,180,190,200],"format":"d","labelOverlap":false,"labelExpr":"datum.value % 50 === 0 ? datum.label : ''","tickSize":{"condition":{"test":"datum.value % 50 === 0","value":6},"value":3.5},"labelPadding":6,"title":"Cycle number","titlePadding":-8}},
  "y":{"field":"y","type":"quantitative","scale":{"domain":[0,1300],"nice":false},
   "axis":{"values":[0,100,200,300,400,500,600,700,800,900,1000,1100,1200,1300],"format":"d","labelOverlap":false,"labelExpr":"datum.value % 300 === 0 ? datum.label : ''","tickSize":{"condition":{"test":"datum.value % 300 === 0","value":6},"value":3.5},"title":"Capacity (mA h g⁻¹)","titlePadding":10}}
 },
 "layer":[
  {"data":{"name":"fil"},"mark":{"type":"point","shape":"diamond","filled":true,"color":"black","size":75,"opacity":1}},
  {"data":{"name":"y350"},"mark":{"type":"point","shape":"square","filled":true,"color":"#12127e","size":65,"opacity":1}},
  {"data":{"name":"y400"},"mark":{"type":"point","shape":"circle","filled":true,"color":"#15841a","size":75,"opacity":1}},
  {"data":{"name":"y450"},"mark":{"type":"point","shape":"triangle-up","filled":true,"color":"#fb9426","size":80,"opacity":1}},
  {"data":{"values":[{"c":21.2,"y":873,"y2":1010},{"c":161.4,"y":818,"y2":985},{"c":156.5,"y":500,"y2":582},{"c":37.5,"y":390,"y2":295}]},
   "mark":{"type":"rule","strokeWidth":1.5,"color":"black"},"encoding":{"y2":{"field":"y2"}}},
  {"data":{"values":[{"c":21.2,"y":1012},{"c":161.4,"y":988},{"c":156.5,"y":585}]},
   "mark":{"type":"point","shape":"triangle-up","filled":true,"color":"black","size":30,"opacity":1}},
  {"data":{"values":[{"c":37.5,"y":292}]},
   "mark":{"type":"point","shape":"triangle-down","filled":true,"color":"black","size":30,"opacity":1}},
  {"data":{"values":[{"c":7.2,"y":1042,"t":"Yolk-shell, 450°C"},{"c":121.7,"y":1041,"t":"Yolk-shell, 400°C"},{"c":121.7,"y":627,"t":"Yolk-shell, 350°C"},{"c":12.6,"y":211,"t":"Filled, 450°C"}]},
   "mark":{"type":"text","align":"left","baseline":"alphabetic","fontSize":22},"encoding":{"text":{"field":"t"}}},
  {"data":{"values":[{"c":67.2,"y":87,"t":"Current density : 500 mA g⁻¹"}]},
   "mark":{"type":"text","align":"left","baseline":"alphabetic","fontSize":22},"encoding":{"text":{"field":"t"}}}
 ]
}
]
}
